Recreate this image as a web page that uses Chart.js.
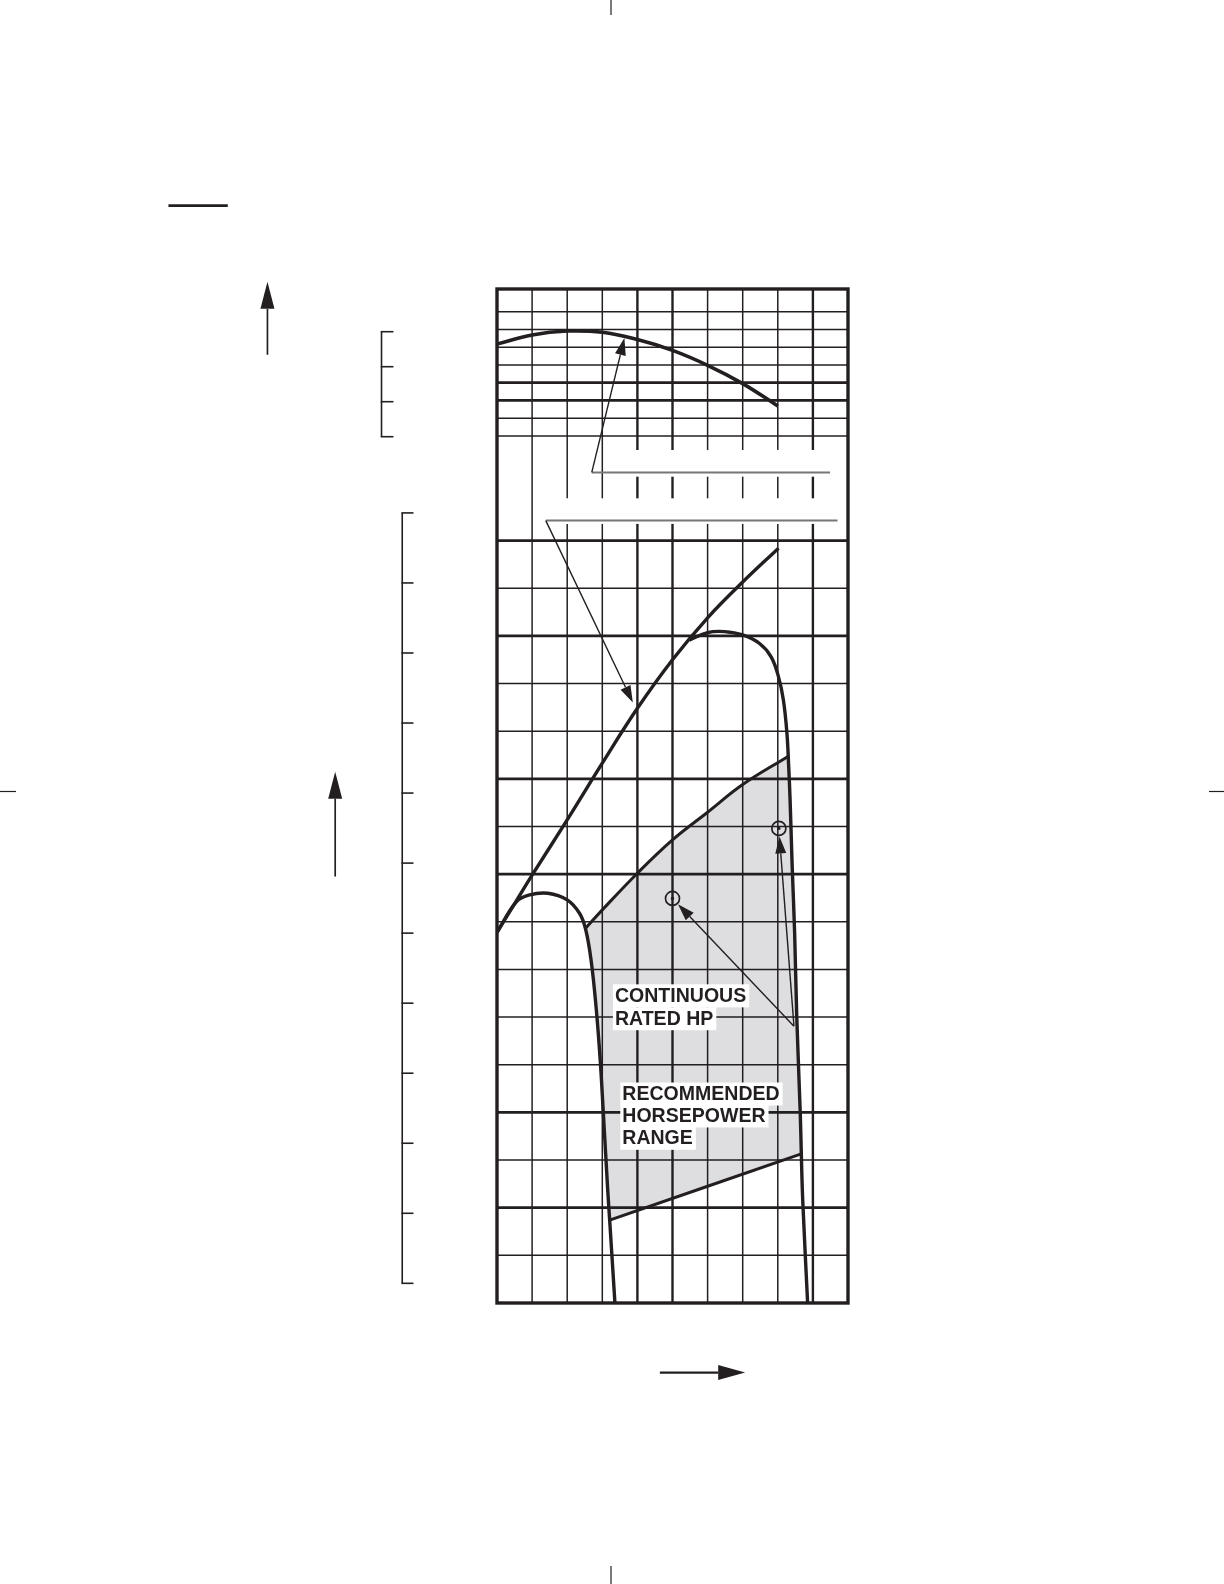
<!DOCTYPE html>
<html lang="en">
<head>
    <meta charset="UTF-8">
    <title>Engine Performance Curve</title>
    <script src="https://cdn.jsdelivr.net/npm/chart.js"></script>
    <style>
        body {
            margin: 0;
            padding: 0;
            background-color: #fff;
        }
        .chartBox {
            width: 1224px;
            height: 1584px;
        }
    </style>
</head>
<body>
    <div class="chartBox">
        <canvas id="perfChart" width="1224" height="1584"></canvas>
    </div>
    <script>
        // grid layout (x = rpm columns, y = hp rows, y2 = torque rows)
        const gridCols = [1, 2, 3, 4, 5, 6, 7, 8, 9];
        const thickCols = [4, 5, 9];
        const hpRows = [1, 2, 3, 4, 5, 6, 7, 8, 9, 10, 11, 12, 13, 14, 15, 16];
        const thickHpRows = [2, 4, 9, 11, 14, 16];
        const torqueRows = [0, 1, 2, 3, 4, 5, 6, 7];
        const thickTorqueRows = [2, 3];
        // broken column lines between the two panels (torque units, null = top of hp panel)
        const gapSpansCol1 = [[0, null]];
        const gapSpansNarrow = [[0, -3.51], [-4.95, null]];
        const gapSpansWide = [[0, -0.79], [-2.29, -3.51], [-4.95, null]];
        const hpBracketTicks = [0, 1, 2, 3, 4, 5, 6, 7, 8, 9, 10, 11];
        const torqueBracketTicks = [0, 1, 2, 3];

        // torque curve (top panel)
        const torqueRpm = [0, 1, 2, 3, 4, 5, 6, 7, 8];
        const torqueVal = [5.18, 5.69, 5.91, 5.84, 5.43, 4.82, 3.98, 2.95, 1.69];

        // maximum hp line
        const maxHpRpm = [0, 0.55, 1, 2, 3, 4, 5, 6, 7, 8.02];
        const maxHpVal = [7.78, 8.44, 8.98, 10.14, 11.33, 12.48, 13.50, 14.38, 15.13, 15.84];

        // operating envelope, low speed side
        const lowEnvRpm = [0, 0.55, 0.9, 1.45, 2.0, 2.35, 2.52, 2.68, 2.83, 2.94, 3.03, 3.16, 3.21, 3.36];
        const lowEnvVal = [7.78, 8.42, 8.56, 8.60, 8.46, 8.18, 7.86, 7.20, 6.15, 5.10, 3.98, 2.30, 1.74, 0];

        // operating envelope, high speed side
        const highEnvRpm = [5.48, 6.0, 6.48, 7.0, 7.48, 7.81, 8.02, 8.16, 8.26, 8.31, 8.35, 8.41, 8.48, 8.54, 8.64, 8.67, 8.71, 8.85];
        const highEnvVal = [13.91, 14.07, 14.09, 14.02, 13.84, 13.56, 13.14, 12.65, 11.96, 11.26, 10.56, 9.16, 7.76, 6.01, 3.98, 3.13, 2.16, 0];

        // recommended range limits
        const rangeTopRpm = [2.52, 3.0, 4.0, 5.0, 6.0, 7.0, 8.29];
        const rangeTopVal = [7.86, 8.25, 9.02, 9.72, 10.30, 10.88, 11.47];
        const rangeLowRpm = [3.21, 8.67];
        const rangeLowVal = [1.74, 3.13];

        // continuous rated hp points
        const ratedRpm = [5.0, 8.03];
        const ratedHp = [8.49, 9.96];

        const ink = '#231f20';
        const zip = (xs, ys) => xs.map((v, i) => ({x: v, y: ys[i]}));

        // shaded polygon from the limit curves
        const shade = [
            ...zip(rangeTopRpm, rangeTopVal),
            ...zip(highEnvRpm, highEnvVal).filter(p => p.x > 8.29 && p.y < 11.47 && p.y > 3.13),
            {x: rangeLowRpm[1], y: rangeLowVal[1]},
            {x: rangeLowRpm[0], y: rangeLowVal[0]},
            ...zip(lowEnvRpm, lowEnvVal).filter(p => p.x > 2.52 && p.y > 1.74 && p.y < 7.86).reverse(),
            {x: rangeTopRpm[0], y: rangeTopVal[0]}
        ];

        function seg(ctx, x1, y1, x2, y2, w, color) {
            ctx.beginPath();
            ctx.moveTo(x1, y1);
            ctx.lineTo(x2, y2);
            ctx.lineWidth = w;
            ctx.strokeStyle = color || ink;
            ctx.stroke();
        }

        function arrow(ctx, x1, y1, x2, y2, w, headLen, headHalf, stopShort) {
            const ang = Math.atan2(y2 - y1, x2 - x1);
            const tx = x2 - Math.cos(ang) * (stopShort || 0);
            const ty = y2 - Math.sin(ang) * (stopShort || 0);
            const bx = tx - Math.cos(ang) * headLen;
            const by = ty - Math.sin(ang) * headLen;
            seg(ctx, x1, y1, bx, by, w);
            ctx.beginPath();
            ctx.moveTo(tx, ty);
            ctx.lineTo(bx - Math.sin(ang) * headHalf, by + Math.cos(ang) * headHalf);
            ctx.lineTo(bx + Math.sin(ang) * headHalf, by - Math.cos(ang) * headHalf);
            ctx.closePath();
            ctx.fillStyle = ink;
            ctx.fill();
        }

        const gridPlugin = {
            id: 'gridPlugin',
            beforeDatasetsDraw(chart) {
                const {ctx, chartArea: a, scales} = chart;
                const X = v => scales.x.getPixelForValue(v);
                const Y = v => scales.y.getPixelForValue(v);
                const T = v => scales.y2.getPixelForValue(v);
                ctx.save();
                ctx.lineCap = 'butt';
                // hp panel grid
                hpRows.forEach(r => seg(ctx, X(0), Y(r), X(10), Y(r), thickHpRows.includes(r) ? 2.7 : 1.5));
                gridCols.forEach(c => seg(ctx, X(c), Y(0), X(c), Y(16), thickCols.includes(c) ? 2.4 : 1.5));
                // torque panel grid
                torqueRows.forEach(k => seg(ctx, X(0), T(k), X(10), T(k), thickTorqueRows.includes(k) ? 2.7 : 1.5));
                gridCols.forEach(c => seg(ctx, X(c), T(0), X(c), a.top, thickCols.includes(c) ? 2.4 : 1.5));
                // broken lines between panels
                gridCols.forEach(c => {
                    const spans = c === 1 ? gapSpansCol1 : (c < 4 ? gapSpansNarrow : gapSpansWide);
                    spans.forEach(([k1, k2]) => {
                        seg(ctx, X(c), T(k1), X(c), k2 === null ? Y(16) : T(k2), thickCols.includes(c) ? 2.4 : 1.5);
                    });
                });
                // frame
                ctx.lineWidth = 3.4;
                ctx.strokeStyle = ink;
                ctx.strokeRect(a.left, a.top, a.right - a.left, a.bottom - a.top);
                ctx.restore();
            },
            afterDatasetsDraw(chart) {
                const {ctx, scales} = chart;
                const X = v => scales.x.getPixelForValue(v);
                const Y = v => scales.y.getPixelForValue(v);
                const B = v => scales.yb.getPixelForValue(v);
                const BT = v => scales.yt.getPixelForValue(v);
                ctx.save();
                ctx.lineCap = 'butt';

                // label leaders (labels left blank as in the print)
                seg(ctx, X(9.49), Y(17.43), X(2.70), Y(17.43), 2, '#777');
                arrow(ctx, X(2.70), Y(17.43), X(3.63), Y(20.25), 1.4, 17, 5.5);
                seg(ctx, X(9.70), Y(16.42), X(1.39), Y(16.42), 2, '#777');
                arrow(ctx, X(1.39), Y(16.42), X(3.87), Y(12.6), 1.4, 17, 5.5);

                // arrows to the rated points
                ratedRpm.forEach((c, i) => {
                    arrow(ctx, X(8.46), Y(5.81), X(c), Y(ratedHp[i]), 1.4, 17, 5.5, 8);
                });

                // text with knockout boxes
                ctx.font = 'bold 21px "Liberation Sans", Arial, sans-serif';
                ctx.textBaseline = 'alphabetic';
                const blocks = [
                    {lines: ['CONTINUOUS', 'RATED HP'], x: 3.36, rows: [6.32, 5.84]},
                    {lines: ['RECOMMENDED', 'HORSEPOWER', 'RANGE'], x: 3.57, rows: [4.26, 3.80, 3.33]}
                ];
                blocks.forEach(b => {
                    b.lines.forEach((t, i) => {
                        const w = ctx.measureText(t).width * 0.93;
                        ctx.fillStyle = '#fff';
                        ctx.fillRect(X(b.x) - 2, Y(b.rows[i]) - 17.5, w + 5, 23);
                    });
                    b.lines.forEach((t, i) => {
                        ctx.save();
                        ctx.translate(X(b.x), Y(b.rows[i]));
                        ctx.scale(0.93, 1);
                        ctx.fillStyle = ink;
                        ctx.fillText(t, 0, 0);
                        ctx.restore();
                    });
                });

                // left brackets
                seg(ctx, X(-2.70), B(0), X(-2.70), B(11), 1.6);
                hpBracketTicks.forEach(v => seg(ctx, X(-2.70) - 0.8, B(v), X(-2.38), B(v), 1.6));
                seg(ctx, X(-3.29), BT(0), X(-3.29), BT(3), 1.6);
                torqueBracketTicks.forEach(v => seg(ctx, X(-3.29) - 0.8, BT(v), X(-2.95), BT(v), 1.6));

                // axis direction arrows and title rule
                arrow(ctx, X(-6.54), Y(19.90), X(-6.54), Y(21.43), 1.7, 27, 7);
                arrow(ctx, X(-4.61), Y(8.95), X(-4.61), Y(11.15), 1.7, 27, 7);
                arrow(ctx, X(4.64), Y(-1.46), X(7.07), Y(-1.46), 2.3, 27, 7.5);
                seg(ctx, X(-9.36), Y(23.03), X(-7.67), Y(23.03), 2.8);
                ctx.restore();
            },
            afterDraw(chart) {
                // page crop marks
                const ctx = chart.ctx;
                ctx.save();
                seg(ctx, 611, 0, 611, 15, 1.2);
                seg(ctx, 611, 1566, 611, 1584, 1.2);
                seg(ctx, 0, 791.5, 16, 791.5, 1.2);
                seg(ctx, 1209, 791.5, 1224, 791.5, 1.2);
                ctx.restore();
            }
        };

        const curve = (data, w, axis) => ({
            data: data,
            showLine: true,
            borderColor: ink,
            borderWidth: w,
            tension: 0.4,
            pointRadius: 0,
            fill: false,
            borderJoinStyle: 'round',
            yAxisID: axis || 'y'
        });

        const myChart = new Chart(document.getElementById('perfChart'), {
            type: 'scatter',
            data: {
                datasets: [
                    {
                        data: zip(ratedRpm, ratedHp),
                        pointStyle: 'circle',
                        pointRadius: 7,
                        pointBorderWidth: 1.7,
                        pointBorderColor: ink,
                        pointBackgroundColor: 'rgba(0,0,0,0)',
                        showLine: false
                    },
                    {
                        data: zip(ratedRpm, ratedHp),
                        pointRadius: 1.7,
                        pointBorderWidth: 0,
                        pointBackgroundColor: ink,
                        showLine: false
                    },
                    curve(zip(torqueRpm, torqueVal), 3.6, 'y2'),
                    curve(zip(maxHpRpm, maxHpVal), 3.4),
                    curve(zip(lowEnvRpm, lowEnvVal), 3.4),
                    curve(zip(highEnvRpm, highEnvVal), 3.4),
                    curve(zip(rangeTopRpm, rangeTopVal), 3),
                    curve(zip(rangeLowRpm, rangeLowVal), 3),
                    {
                        data: shade,
                        showLine: true,
                        borderWidth: 0,
                        borderColor: 'rgba(0,0,0,0)',
                        backgroundColor: 'rgba(20,20,40,0.14)',
                        fill: 'shape',
                        tension: 0,
                        pointRadius: 0
                    }
                ]
            },
            options: {
                responsive: false,
                animation: false,
                events: [],
                layout: {
                    padding: {left: 497, right: 376, top: 289, bottom: 281}
                },
                plugins: {
                    legend: {display: false},
                    tooltip: {enabled: false}
                },
                scales: {
                    x: {type: 'linear', min: 0, max: 10, display: false},
                    y: {type: 'linear', min: 0, max: 21.28, display: false},
                    y2: {type: 'linear', min: -48.82, max: 8.277, display: false},
                    yb: {type: 'linear', min: -0.281, max: 14.197, display: false},
                    yt: {type: 'linear', min: -24.75, max: 4.22, display: false}
                }
            },
            plugins: [gridPlugin]
        });
    </script>
</body>
</html>
